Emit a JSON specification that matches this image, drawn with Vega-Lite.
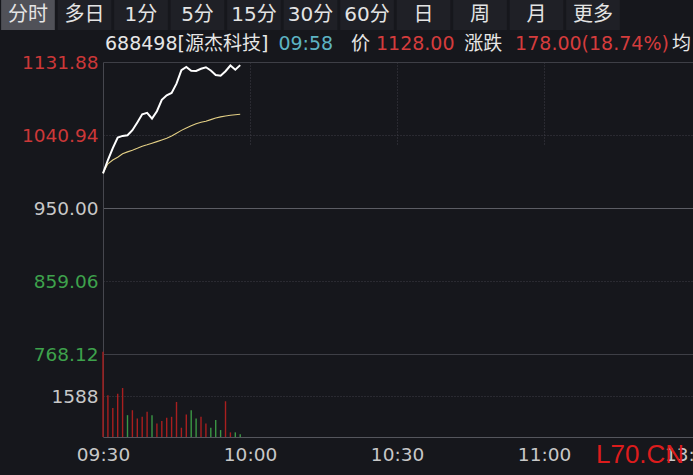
{
  "$schema": "https://vega.github.io/schema/vega-lite/v6.json",
  "width": 590,
  "height": 375,
  "autosize": {"type": "none"},
  "padding": {"left": 103, "top": 62, "right": 0, "bottom": 38},
  "background": "#16171c",
  "config": {
    "view": {"stroke": null},
    "text": {"font": "DejaVu Sans, Noto Sans CJK SC", "fontSize": 19, "align": "left", "baseline": "middle"}
  },
  "datasets": {
    "series": [
      {"t": 0, "price": 993.2, "avg": 993.2, "vol": 3300, "dir": "up"},
      {"t": 1, "price": 1009.8, "avg": 1005.1, "vol": 1615, "dir": "up"},
      {"t": 2, "price": 1024.5, "avg": 1009.8, "vol": 1128, "dir": "up"},
      {"t": 3, "price": 1037.7, "avg": 1013.3, "vol": 1680, "dir": "up"},
      {"t": 4, "price": 1039.8, "avg": 1017.6, "vol": 1897, "dir": "up"},
      {"t": 5, "price": 1040.6, "avg": 1019.9, "vol": 846, "dir": "down"},
      {"t": 6, "price": 1046.9, "avg": 1021.9, "vol": 1038, "dir": "up"},
      {"t": 7, "price": 1056.6, "avg": 1024.3, "vol": 718, "dir": "up"},
      {"t": 8, "price": 1066.7, "avg": 1027.0, "vol": 782, "dir": "up"},
      {"t": 9, "price": 1068.6, "avg": 1028.7, "vol": 974, "dir": "up"},
      {"t": 10, "price": 1061.3, "avg": 1030.7, "vol": 846, "dir": "down"},
      {"t": 11, "price": 1070.6, "avg": 1032.7, "vol": 526, "dir": "up"},
      {"t": 12, "price": 1084.8, "avg": 1034.7, "vol": 615, "dir": "up"},
      {"t": 13, "price": 1090.4, "avg": 1036.8, "vol": 743, "dir": "up"},
      {"t": 14, "price": 1093.3, "avg": 1039.8, "vol": 782, "dir": "up"},
      {"t": 15, "price": 1104.9, "avg": 1043.2, "vol": 1358, "dir": "up"},
      {"t": 16, "price": 1121.7, "avg": 1046.7, "vol": 359, "dir": "up"},
      {"t": 17, "price": 1125.7, "avg": 1049.8, "vol": 872, "dir": "up"},
      {"t": 18, "price": 1120.9, "avg": 1052.5, "vol": 1038, "dir": "down"},
      {"t": 19, "price": 1120.7, "avg": 1055.0, "vol": 718, "dir": "down"},
      {"t": 20, "price": 1123.4, "avg": 1056.9, "vol": 782, "dir": "up"},
      {"t": 21, "price": 1125.3, "avg": 1058.1, "vol": 526, "dir": "up"},
      {"t": 22, "price": 1121.3, "avg": 1060.1, "vol": 359, "dir": "down"},
      {"t": 23, "price": 1115.7, "avg": 1062.1, "vol": 654, "dir": "down"},
      {"t": 24, "price": 1114.8, "avg": 1063.5, "vol": 269, "dir": "down"},
      {"t": 25, "price": 1120.4, "avg": 1064.7, "vol": 1384, "dir": "up"},
      {"t": 26, "price": 1127.5, "avg": 1065.5, "vol": 180, "dir": "up"},
      {"t": 27, "price": 1122.3, "avg": 1066.2, "vol": 180, "dir": "down"},
      {"t": 28, "price": 1128.0, "avg": 1066.7, "vol": 103, "dir": "down"}
    ],
    "header": [
      {"seg": "code", "text": "688498[源杰科技]", "kind": "label"},
      {"seg": "time", "text": "09:58", "kind": "time"},
      {"seg": "priceLabel", "text": "价", "kind": "label"},
      {"seg": "price", "text": "1128.00", "kind": "up"},
      {"seg": "chgLabel", "text": "涨跌", "kind": "label"},
      {"seg": "chg", "text": "178.00(18.74%)", "kind": "up"},
      {"seg": "avgLabel", "text": "均", "kind": "label"}
    ],
    "tabs": [
      {"tab": "分时", "sel": 1},
      {"tab": "多日", "sel": 0},
      {"tab": "1分", "sel": 0},
      {"tab": "5分", "sel": 0},
      {"tab": "15分", "sel": 0},
      {"tab": "30分", "sel": 0},
      {"tab": "60分", "sel": 0},
      {"tab": "日", "sel": 0},
      {"tab": "周", "sel": 0},
      {"tab": "月", "sel": 0},
      {"tab": "更多", "sel": 0}
    ],
    "watermark": [{"label": "L70.CN"}]
  },
  "layer": [
    {
      "data": {"name": "tabs"},
      "layer": [
        {
          "mark": {"type": "bar"},
          "encoding": {
            "x": {"field": "tab", "type": "nominal", "sort": null, "scale": {"range": [-103, 518], "paddingInner": 0.05, "paddingOuter": 0.02}, "axis": null},
            "y": {"datum": 0, "type": "quantitative", "scale": {"domain": [0, 1], "range": [-32, -62]}, "axis": null},
            "y2": {"datum": 1},
            "color": {"condition": {"test": "datum.sel === 1", "value": "#505158"}, "value": "#1f2026"}
          }
        },
        {
          "mark": {"type": "text", "fontSize": 20, "align": "center", "color": "#e4e4e4"},
          "encoding": {
            "x": {"field": "tab", "type": "nominal", "sort": null, "axis": null},
            "y": {"datum": 0.5, "type": "quantitative", "axis": null},
            "text": {"field": "tab"}
          }
        }
      ]
    },
    {
      "layer": [
        {
          "data": {"name": "series"},
          "mark": {"type": "line", "color": "#e3cf85", "strokeWidth": 1.1},
          "encoding": {
            "x": {"field": "t", "type": "quantitative", "scale": {"domain": [0, 120.4], "nice": false, "zero": false}, "axis": null},
            "y": {
              "field": "avg", "type": "quantitative",
              "scale": {"domain": [768.12, 1131.88], "range": [292, 0], "nice": false, "zero": false},
              "axis": {
                "orient": "left", "title": null,
                "values": [768.12, 859.06, 950, 1040.94, 1131.88],
                "format": ".2f",
                "domain": true, "domainColor": "#46474e",
                "ticks": false, "labelPadding": 5,
                "labelFont": "DejaVu Sans", "labelFontSize": 18.5,
                "labelOverlap": false, "labelFlush": false,
                "labelColor": {"condition": [{"test": "datum.value > 1000", "value": "#cc3838"}, {"test": "datum.value < 900", "value": "#3ea24c"}], "value": "#c8c8c8"},
                "grid": true,
                "gridColor": {"condition": {"test": "datum.value == 950", "value": "#5c5d64"}, "value": "#3e3f46"},
                "gridDash": {"condition": {"test": "datum.value == 1040.94 || datum.value == 859.06", "value": [1, 2]}, "value": []}
              }
            }
          }
        },
        {
          "data": {"name": "series"},
          "mark": {"type": "line", "color": "#ffffff", "strokeWidth": 2},
          "encoding": {
            "x": {"field": "t", "type": "quantitative"},
            "y": {"field": "price", "type": "quantitative"}
          }
        },
        {
          "data": {"name": "header"},
          "transform": [{"filter": "datum.seg === 'code'"}],
          "mark": {"type": "text", "color": "#e6e6e6"},
          "encoding": {"x": {"datum": 0.4, "type": "quantitative"}, "y": {"datum": 1154.3, "type": "quantitative"}, "text": {"field": "text"}}
        },
        {
          "data": {"name": "header"},
          "transform": [{"filter": "datum.seg === 'time'"}],
          "mark": {"type": "text", "color": "#5db3c3"},
          "encoding": {"x": {"datum": 35.8, "type": "quantitative"}, "y": {"datum": 1154.3, "type": "quantitative"}, "text": {"field": "text"}}
        },
        {
          "data": {"name": "header"},
          "transform": [{"filter": "datum.seg === 'priceLabel'"}],
          "mark": {"type": "text", "color": "#e6e6e6"},
          "encoding": {"x": {"datum": 50.6, "type": "quantitative"}, "y": {"datum": 1154.3, "type": "quantitative"}, "text": {"field": "text"}}
        },
        {
          "data": {"name": "header"},
          "transform": [{"filter": "datum.seg === 'price'"}],
          "mark": {"type": "text", "color": "#d43c3c"},
          "encoding": {"x": {"datum": 55.7, "type": "quantitative"}, "y": {"datum": 1154.3, "type": "quantitative"}, "text": {"field": "text"}}
        },
        {
          "data": {"name": "header"},
          "transform": [{"filter": "datum.seg === 'chgLabel'"}],
          "mark": {"type": "text", "color": "#e6e6e6"},
          "encoding": {"x": {"datum": 73.7, "type": "quantitative"}, "y": {"datum": 1154.3, "type": "quantitative"}, "text": {"field": "text"}}
        },
        {
          "data": {"name": "header"},
          "transform": [{"filter": "datum.seg === 'chg'"}],
          "mark": {"type": "text", "color": "#d43c3c"},
          "encoding": {"x": {"datum": 84.1, "type": "quantitative"}, "y": {"datum": 1154.3, "type": "quantitative"}, "text": {"field": "text"}}
        },
        {
          "data": {"name": "header"},
          "transform": [{"filter": "datum.seg === 'avgLabel'"}],
          "mark": {"type": "text", "color": "#e6e6e6"},
          "encoding": {"x": {"datum": 116.1, "type": "quantitative"}, "y": {"datum": 1154.3, "type": "quantitative"}, "text": {"field": "text"}}
        }
      ]
    },
    {
      "layer": [
        {
          "data": {"name": "series"},
          "mark": {"type": "rule", "strokeWidth": 1.4},
          "encoding": {
            "x": {
              "field": "t", "type": "quantitative",
              "scale": {"domain": [0, 120.4], "nice": false, "zero": false},
              "axis": {
                "orient": "bottom", "title": null,
                "values": [0, 30, 60, 90, 120],
                "labelExpr": "datum.value == 0 ? '09:30' : datum.value == 30 ? '10:00' : datum.value == 60 ? '10:30' : datum.value == 90 ? '11:00' : '13:00'",
                "domainColor": "#55565d", "ticks": false, "labelPadding": 8,
                "labelFont": "DejaVu Sans", "labelFontSize": 18.5, "labelColor": "#c8c8c8",
                "labelFlush": false, "labelOverlap": false, "labelBound": false,
                "grid": true, "gridColor": "#3e3f46", "gridDash": [1, 2],
                "gridOpacity": {"condition": {"test": "datum.value == 0 || datum.value == 120", "value": 0}, "value": 1}
              }
            },
            "y": {
              "field": "vol", "type": "quantitative",
              "scale": {"domain": [0, 3215], "range": [375, 292], "nice": false, "zero": false},
              "axis": {
                "orient": "left", "title": null,
                "values": [1588], "format": "d",
                "domain": true, "domainColor": "#46474e",
                "ticks": false, "labelPadding": 5,
                "labelFont": "DejaVu Sans", "labelFontSize": 18.5, "labelColor": "#c8c8c8",
                "labelOverlap": false, "labelFlush": false,
                "grid": true, "gridColor": "#3e3f46", "gridDash": [1, 2]
              }
            },
            "y2": {"datum": 0},
            "color": {"condition": {"test": "datum.dir === 'up'", "value": "#a91f1f"}, "value": "#3b9745"}
          }
        },
        {
          "data": {"name": "watermark"},
          "mark": {"type": "text", "font": "Liberation Sans", "fontSize": 26, "color": "#dc1c1c"},
          "encoding": {
            "x": {"datum": 100.6, "type": "quantitative"},
            "y": {"datum": -697, "type": "quantitative"},
            "text": {"field": "label"}
          }
        }
      ]
    }
  ],
  "resolve": {
    "scale": {"x": "independent", "y": "independent"},
    "axis": {"x": "independent", "y": "independent"}
  }
}
